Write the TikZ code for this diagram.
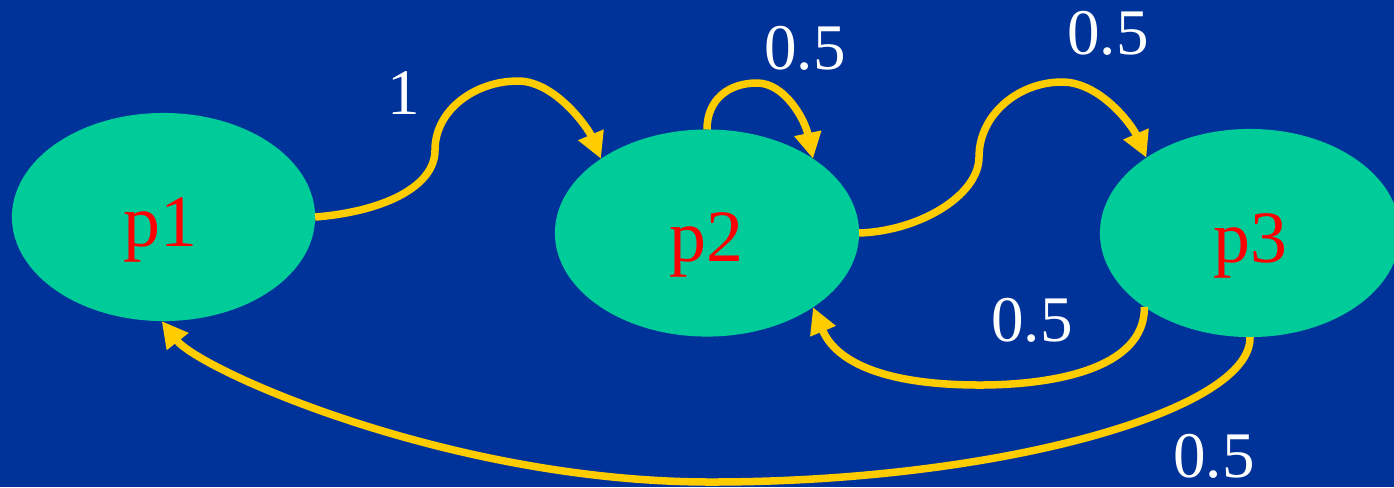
\documentclass[tikz,border=0pt]{standalone}
\usepackage{fontspec}
\setmainfont{Liberation Serif}
\usetikzlibrary{shapes.geometric,arrows.meta}
\definecolor{bgblue}{HTML}{003399}
\definecolor{stategreen}{HTML}{00CC99}
\definecolor{edgeyellow}{HTML}{FFCC00}
\tikzset{
  statebox/.style={ellipse, fill=stategreen, draw=none, inner sep=0pt, outer sep=0pt},
  statetext/.style={anchor=base, text=red, font=\fontsize{21pt}{24pt}\selectfont, inner sep=0pt},
  problabel/.style={anchor=base, text=white, font=\fontsize{18.5pt}{22pt}\selectfont, inner sep=0pt},
  transition/.style={draw=edgeyellow, line width=0.075cm, line cap=butt,
    -{Triangle[length=0.26cm, width=0.26cm]}},
}
\begin{document}
\begin{tikzpicture}[x=0.01cm, y=-0.01cm]
\useasboundingbox (0,0) rectangle (1394,487);
\clip (0,0) rectangle (1394,487);
\fill[bgblue] (0,0) rectangle (1394,487);

% states
\node[statebox, minimum width=3.03cm, minimum height=2.08cm] (p1) at (163.5,217) {};
\node[statebox, minimum width=3.04cm, minimum height=2.07cm] (p2) at (707,233) {};
\node[statebox, minimum width=3.00cm, minimum height=2.08cm] (p3) at (1250,233) {};

\node[statetext] (p1t) at (160,246) {p1};
\node[statetext] (p2t) at (706,261) {p2};
\node[statetext] (p3t) at (1250,262) {p3};

% p1 -> p2
\draw[transition] (p1.east) .. controls (380,212) and (435,188) .. (435,150)
  .. controls (435,110) and (475,81) .. (518,81)
  .. controls (555,81) and (588,128) .. (p2.145.7);
% p2 self loop
\draw[transition] (p2.north) .. controls (707,100) and (728,83) .. (757,83)
  .. controls (785,83) and (805,120) .. (p2.35);
% p2 -> p3
\draw[transition] (p2.east) .. controls (920,231) and (979,195) .. (979,157)
  .. controls (979,115) and (1018,82) .. (1062,82)
  .. controls (1100,82) and (1132,125) .. (p3.144.5);
% p3 -> p2
\draw[transition] (p3.215.5) .. controls (1145,370) and (1050,385) .. (980,385)
  .. controls (880,385) and (835,360) .. (p2.-35);
% p3 -> p1
\draw[transition] (p3.south) .. controls (1252,410) and (1000,482) .. (711,482)
  .. controls (450,482) and (200,370) .. (p1.269);

% labels
\node[problabel] (l12) at (404,114) {1};
\node[problabel] (l22) at (805,69) {0.5};
\node[problabel] (l23) at (1108,54) {0.5};
\node[problabel] (l32) at (1032,341) {0.5};
\node[problabel] (l31) at (1214,477) {0.5};
\end{tikzpicture}
\end{document}
